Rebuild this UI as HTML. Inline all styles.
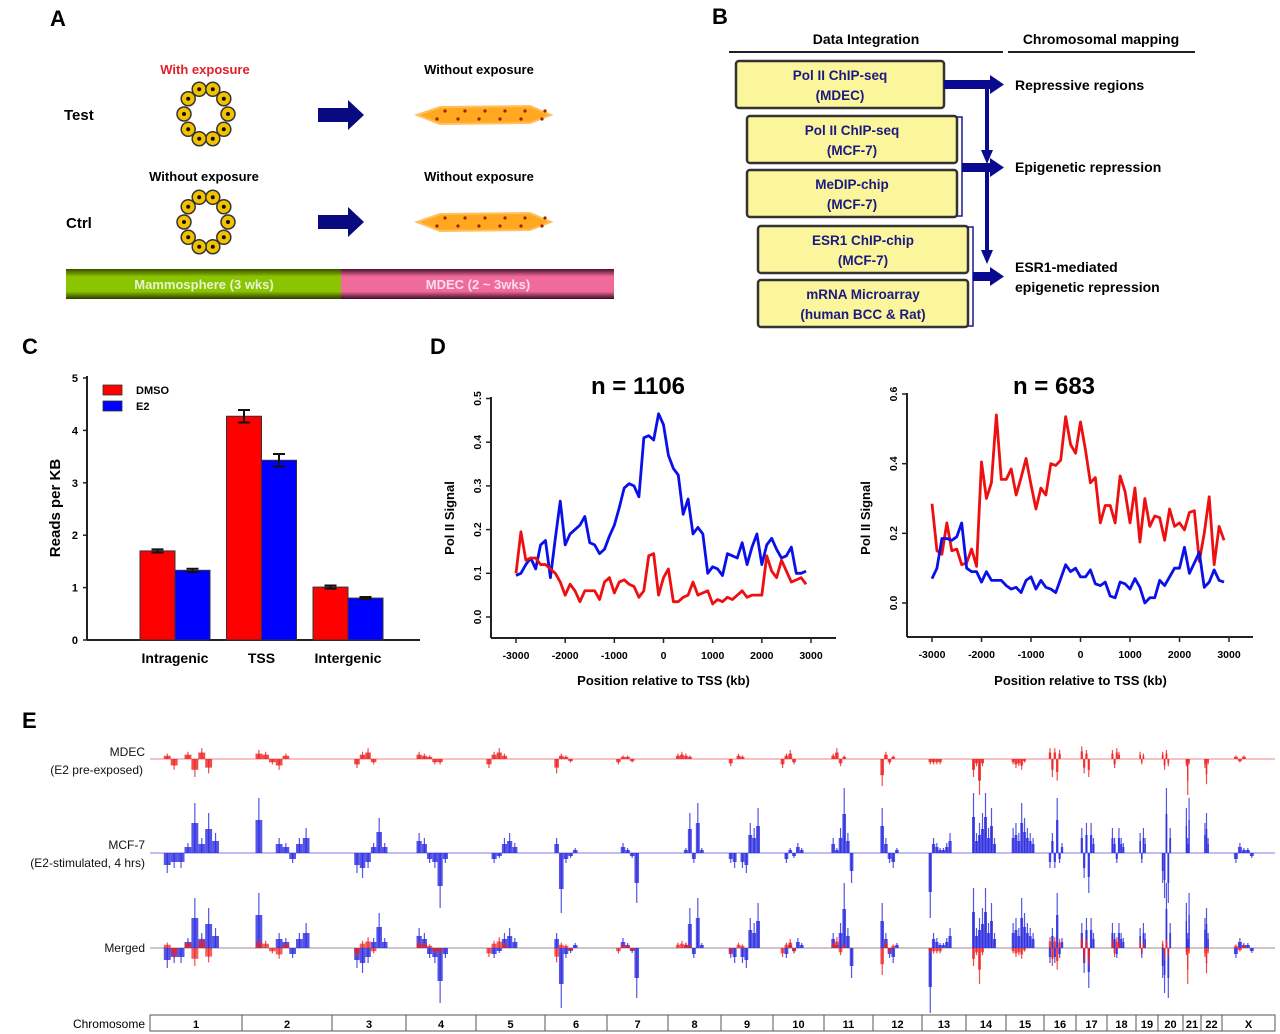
<!DOCTYPE html>
<html><head><meta charset="utf-8"><style>
html,body{margin:0;padding:0;background:#fff}
svg{display:block;font-family:"Liberation Sans",Arial,sans-serif}
</style></head><body>
<svg id="fig" width="1280" height="1034" viewBox="0 0 1280 1034" xmlns="http://www.w3.org/2000/svg">
<defs>
<linearGradient id="gGreen" x1="0" y1="0" x2="0" y2="1"><stop offset="0" stop-color="#3a4a00"/><stop offset="0.25" stop-color="#8bc400"/><stop offset="0.75" stop-color="#8bc400"/><stop offset="1" stop-color="#2a3a00"/></linearGradient>
<linearGradient id="gPink" x1="0" y1="0" x2="0" y2="1"><stop offset="0" stop-color="#4a1030"/><stop offset="0.25" stop-color="#f06a9a"/><stop offset="0.75" stop-color="#f06a9a"/><stop offset="1" stop-color="#3a0a20"/></linearGradient>
</defs>
<g font-weight="bold" font-size="22" fill="#000">
<text x="50" y="26">A</text>
<text x="712" y="24">B</text>
<text x="22" y="354">C</text>
<text x="430" y="354">D</text>
<text x="22" y="728">E</text>
</g>

<!-- Panel A -->
<g id="panelA" font-weight="bold" font-size="13">
<text x="205" y="74" text-anchor="middle" fill="#e0202a">With exposure</text>
<text x="479" y="74" text-anchor="middle">Without exposure</text>
<text x="204" y="181" text-anchor="middle">Without exposure</text>
<text x="479" y="181" text-anchor="middle">Without exposure</text>
<text x="64" y="120" font-size="15">Test</text>
<text x="66" y="228" font-size="15">Ctrl</text>
<g id="rings"></g>
<path d="M318 108 h30 v-8 l16 15 l-16 15 v-8 h-30z" fill="#0a0a80"/>
<path d="M318 215 h30 v-8 l16 15 l-16 15 v-8 h-30z" fill="#0a0a80"/>
<g id="strips"></g>
<rect x="66" y="269" width="276" height="30" fill="url(#gGreen)"/>
<rect x="341" y="269" width="273" height="30" fill="url(#gPink)"/>
<text x="204" y="289" text-anchor="middle" fill="#e8f4d0" font-size="13">Mammosphere (3 wks)</text>
<text x="478" y="289" text-anchor="middle" fill="#fbe0ea" font-size="13">MDEC (2 ~ 3wks)</text>
</g>

<!-- Panel B -->
<g id="panelB" font-weight="bold" font-size="14">
<text x="866" y="44" text-anchor="middle">Data Integration</text>
<text x="1101" y="44" text-anchor="middle">Chromosomal mapping</text>
<line x1="729" y1="52" x2="1003" y2="52" stroke="#222" stroke-width="2"/>
<line x1="1008" y1="52" x2="1195" y2="52" stroke="#222" stroke-width="2"/>
<g fill="#fbf59c" stroke="#333" stroke-width="2.5">
<rect x="736" y="61" width="208" height="47" rx="3"/>
<rect x="747" y="116" width="210" height="47" rx="3"/>
<rect x="747" y="170" width="210" height="47" rx="3"/>
<rect x="758" y="226" width="210" height="47" rx="3"/>
<rect x="758" y="280" width="210" height="47" rx="3"/>
</g>
<g fill="#1a1a80" text-anchor="middle" font-size="13.5">
<text x="840" y="80">Pol II ChIP-seq</text><text x="840" y="100">(MDEC)</text>
<text x="852" y="135">Pol II ChIP-seq</text><text x="852" y="155">(MCF-7)</text>
<text x="852" y="189">MeDIP-chip</text><text x="852" y="209">(MCF-7)</text>
<text x="863" y="245">ESR1 ChIP-chip</text><text x="863" y="265">(MCF-7)</text>
<text x="863" y="299">mRNA Microarray</text><text x="863" y="319">(human BCC &amp; Rat)</text>
</g>
<g stroke="#1a1a90" fill="none" stroke-width="1.5">
<path d="M956 117 h6 v99 h-6"/><path d="M967 227 h6 v99 h-6"/>
</g>
<g fill="#0a0a90">
<rect x="944" y="80" width="48" height="9"/><path d="M990 75 l14 9.5 l-14 9.5z"/>
<rect x="985" y="84" width="4" height="70"/><path d="M981 150 h12 l-6 14z"/>
<rect x="962" y="163" width="30" height="9"/><path d="M990 158 l14 9.5 l-14 9.5z"/>
<rect x="985" y="167" width="4" height="88"/><path d="M981 250 h12 l-6 14z"/>
<rect x="973" y="272" width="19" height="9"/><path d="M990 267 l14 9.5 l-14 9.5z"/>
</g>
<text x="1015" y="90">Repressive regions</text>
<text x="1015" y="172">Epigenetic repression</text>
<text x="1015" y="272">ESR1-mediated</text>
<text x="1015" y="292">epigenetic repression</text>
</g>

<g id="panelC"></g>
<g id="panelD1"></g>
<g id="panelD2"></g>
<g id="panelE"></g>
</svg>
<script>
// ---------- Panel C data ----------
const cCategories = ["Intragenic","TSS","Intergenic"];
const cDMSO = [1.70, 4.27, 1.01];
const cE2 = [1.33, 3.43, 0.80];
const cDMSOerr = [0.03, 0.12, 0.03];
const cE2err = [0.03, 0.12, 0.02];
const cTicks = [0,1,2,3,4,5];

// ---------- Panel D data ----------
const dPositions = [-3000,-2900,-2800,-2700,-2600,-2500,-2400,-2300,-2200,-2100,-2000,-1900,-1800,-1700,-1600,-1500,-1400,-1300,-1200,-1100,-1000,-900,-800,-700,-600,-500,-400,-300,-200,-100,0,100,200,300,400,500,600,700,800,900,1000,1100,1200,1300,1400,1500,1600,1700,1800,1900,2000,2100,2200,2300,2400,2500,2600,2700,2800,2900];
const d1Blue = [0.095,0.10,0.12,0.135,0.11,0.165,0.175,0.09,0.18,0.265,0.165,0.19,0.20,0.21,0.23,0.17,0.165,0.145,0.155,0.185,0.21,0.25,0.295,0.305,0.30,0.275,0.41,0.415,0.405,0.465,0.44,0.37,0.34,0.325,0.235,0.27,0.19,0.205,0.19,0.10,0.115,0.11,0.095,0.145,0.14,0.135,0.17,0.12,0.16,0.19,0.12,0.165,0.18,0.155,0.135,0.14,0.16,0.10,0.10,0.105];
const d1Red = [0.10,0.195,0.13,0.135,0.135,0.12,0.12,0.11,0.10,0.08,0.05,0.075,0.06,0.035,0.06,0.06,0.06,0.04,0.08,0.09,0.055,0.08,0.085,0.075,0.07,0.045,0.06,0.14,0.145,0.05,0.09,0.11,0.035,0.035,0.045,0.05,0.08,0.05,0.055,0.06,0.03,0.04,0.035,0.045,0.04,0.05,0.06,0.045,0.05,0.05,0.05,0.14,0.105,0.09,0.13,0.105,0.08,0.085,0.09,0.075];
const d2Red = [0.285,0.15,0.14,0.23,0.15,0.155,0.11,0.115,0.155,0.105,0.405,0.30,0.345,0.54,0.355,0.355,0.385,0.31,0.36,0.415,0.34,0.27,0.33,0.31,0.40,0.395,0.41,0.535,0.455,0.43,0.52,0.44,0.345,0.36,0.23,0.28,0.28,0.23,0.365,0.32,0.23,0.33,0.175,0.30,0.22,0.25,0.245,0.18,0.27,0.22,0.23,0.21,0.26,0.265,0.12,0.20,0.305,0.11,0.22,0.18];
const d2Blue = [0.07,0.10,0.185,0.185,0.18,0.19,0.23,0.10,0.09,0.09,0.06,0.09,0.065,0.065,0.065,0.05,0.04,0.045,0.03,0.065,0.075,0.04,0.065,0.045,0.04,0.03,0.07,0.11,0.09,0.10,0.075,0.075,0.095,0.055,0.05,0.06,0.02,0.015,0.06,0.055,0.04,0.07,0.045,0.0,0.015,0.015,0.065,0.05,0.075,0.10,0.10,0.16,0.085,0.115,0.145,0.045,0.06,0.095,0.065,0.06];
const dXTicks = [-3000,-2000,-1000,0,1000,2000,3000];
const d1YTicks = [0.0,0.1,0.2,0.3,0.4,0.5];
const d2YTicks = [0.0,0.2,0.4,0.6];

// ---------- Panel E data ----------
const eChromNames = ["1","2","3","4","5","6","7","8","9","10","11","12","13","14","15","16","17","18","19","20","21","22","X"];
const eChromEdges = [150,242,332,406,476,545,607,668,721,773,824,873,922,966,1006,1044,1076,1107,1136,1158,1183,1201,1222,1275];
const eMCF = [
[-0.4,-0.3,-0.3,0.2,1.0,0.3,0.8,0.4],[1.1,0,0,0.3,0.2,-0.2,0.3,0.5],[0,0,-0.4,-0.5,-0.3,0.2,0.7,0.2],[0.4,0.3,-0.2,-0.3,-1.1,-0.2,0,0],
[0,-0.2,-0.1,0.3,0.4,0.2,0,0],[0.3,-1.2,-0.2,-0.1,0.1,0,0,0],[0,0.2,0.1,-0.1,-1.0,0,0,0],[0,0,0.1,0.8,-0.2,1.0,0.1,0],
[-0.2,-0.3,0,-0.3,-0.4,0.6,0.5,0.9],[0,-0.2,0.1,-0.1,0.2,0.1,0,0],[0.3,0.1,0.5,1.3,0.4,-0.6,0,0],[0.9,0.3,-0.2,-0.3,0.1,0,0,0],
[-1.3,0.3,0.2,0.1,0.1,0.2,0.4,0],[1.2,0.4,0.6,0.8,1.2,0.5,0.9,0.3],[0.5,0.6,0.4,1.0,0.7,0.5,0.4,0.3],[-0.3,0.4,-0.3,1.1,-0.2,0.2,0,0],
[0.5,-0.5,0.6,-0.8,0.6,0.3,0,0],[0.5,0.3,-0.2,0.5,0.3,0.2,0,0],[0.4,-0.2,0.5,0.3,0,0,0,0],[-0.6,-0.9,1.3,-1.0,0.5,0,0,0],
[0.9,0.3,1.1,0,0,0,0,0],[0.6,0.8,0.3,0,0,0,0,0],[0,-0.2,0.2,0.1,0.1,-0.1,0,0]];
const eMDEC = [
[0.3,-0.6,0,0.4,-1.0,0.6,-0.8,0],[0.5,0.4,-0.3,-0.6,0.3,0,0,0],[0,0,-0.5,0.4,0.6,-0.3,0,0],[0.4,0.3,0.2,-0.3,-0.3,0,0,0],
[-0.5,0.4,0.6,0.3,0,0,0,0],[-0.8,0.3,0.2,-0.2,0,0,0,0],[-0.3,0.2,0.2,-0.2,0,0,0,0],[0.3,0.4,0.3,0.2,0,0,0,0],
[-0.4,0,0.3,0.2,0,0,0,0],[-0.5,0.3,0.5,-0.3,0,0,0,0],[0.3,0.6,-0.4,0.2,0,0,0,0],[-1.5,0.4,-0.3,0.2,0,0,0,0],
[-0.3,-0.3,-0.3,-0.3,0,0,0,0],[-1.0,-0.4,-2.0,-0.4,0,0,0,0],[-0.3,-0.5,-0.4,-0.6,-0.2,0,0,0],[0.6,-1.0,0.6,-1.2,0.5,0,0,0],
[0.7,-0.8,0.5,-1.0,0,0,0,0],[0.5,-0.5,0.6,0.4,0,0,0,0],[0.4,-0.3,0.3,0,0,0,0,0],[0.4,-0.6,0.5,-0.4,0,0,0,0],
[-0.4,-2.0,-0.3,0,0,0,0,0],[-0.5,-1.4,-0.3,0,0,0,0,0],[0,0.2,-0.2,0.2,0,0,0,0]];

const NS="http://www.w3.org/2000/svg";
function mk(parent,tag,attrs,text){const e=document.createElementNS(NS,tag);for(const k in attrs)e.setAttribute(k,attrs[k]);if(text!==undefined)e.textContent=text;parent.appendChild(e);return e;}

// Panel A decorations
(function(){
  const g=document.getElementById('rings');
  [[206,114],[206,222]].forEach((c,ri)=>{
    for(let i=0;i<10;i++){const a=i/10*2*Math.PI;
      const cx=c[0]+22*Math.cos(a), cy=c[1]+26*Math.sin(a);
      const cell=mk(g,'circle',{cx:cx,cy:cy,r:7,fill:'#f2c200',stroke:'#333','stroke-width':1.5});
      
      
      mk(g,'circle',{cx:cx,cy:cy,r:2,fill:'#111'});}
  });
  const s=document.getElementById('strips');
  [115,222].forEach(y=>{
    const p=mk(s,'path',{d:`M417 ${y} L440 ${y-8} L530 ${y-9} L551 ${y} L530 ${y+8} L440 ${y+9}Z`,fill:'#ffa820',stroke:'#ffc060','stroke-width':2});
    
    
    for(let i=0;i<6;i++){mk(s,'circle',{cx:445+i*20,cy:y-4,r:1.6,fill:'#a02000'});mk(s,'circle',{cx:437+i*21,cy:y+4,r:1.6,fill:'#a02000'});}
  });
})();

// Panel C
(function(){
  const g=document.getElementById('panelC');
  const y=v=>640-v*52.4;
  const cx=i=>175+i*86.5;
  mk(g,'line',{x1:87,y1:376,x2:87,y2:640,stroke:'#222','stroke-width':2});
  mk(g,'line',{x1:87,y1:640,x2:420,y2:640,stroke:'#222','stroke-width':2});
  cTicks.forEach(t=>{mk(g,'line',{x1:83,y1:y(t),x2:87,y2:y(t),stroke:'#222','stroke-width':1.5});
    const tl=mk(g,'text',{x:78,y:y(t)+4,'text-anchor':'end','font-size':11,'font-weight':'bold'},String(t));
    
    });
  cCategories.forEach((c,i)=>{
    const b1=mk(g,'rect',{x:cx(i)-35,y:y(cDMSO[i]),width:35,height:640-y(cDMSO[i]),fill:'#ff0000',stroke:'#333','stroke-width':1});
    
    
    const b2=mk(g,'rect',{x:cx(i),y:y(cE2[i]),width:35,height:640-y(cE2[i]),fill:'#0000ff',stroke:'#333','stroke-width':1});
    
    
    [[cx(i)-17.5,cDMSO[i],cDMSOerr[i]],[cx(i)+17.5,cE2[i],cE2err[i]]].forEach(e=>{
      mk(g,'path',{d:`M${e[0]} ${y(e[1]+e[2])} V${y(e[1]-e[2])} M${e[0]-6} ${y(e[1]+e[2])} h12 M${e[0]-6} ${y(e[1]-e[2])} h12`,stroke:'#111','stroke-width':2,fill:'none'});});
    const lbl=mk(g,'text',{x:cx(i),y:663,'text-anchor':'middle','font-size':14,'font-weight':'bold'},c);
    
    
  });
  const yl=mk(g,'text',{x:0,y:0,transform:'translate(60,508) rotate(-90)','text-anchor':'middle','font-size':15,'font-weight':'bold'},'Reads per KB');
  
  
  mk(g,'rect',{x:103,y:385,width:19,height:10,fill:'#ff0000',stroke:'#333','stroke-width':0.8});
  mk(g,'rect',{x:103,y:401,width:19,height:10,fill:'#0000ff',stroke:'#333','stroke-width':0.8});
  const l1=mk(g,'text',{x:136,y:394,'font-size':11,'font-weight':'bold'},'DMSO');
  
  
  const l2=mk(g,'text',{x:136,y:410,'font-size':11,'font-weight':'bold'},'E2');
  
  
})();

// Panel D
function lineChart(id,o){
  const g=document.getElementById(id);
  const x=v=>o.x0+(v+3000)*o.xw/6000;
  const y=v=>o.y0-v*o.ys;
  mk(g,'line',{x1:o.ax,y1:o.ytop,x2:o.ax,y2:o.ab,stroke:'#222','stroke-width':2});
  mk(g,'line',{x1:o.ax,y1:o.ab,x2:o.axr,y2:o.ab,stroke:'#222','stroke-width':2});
  dXTicks.forEach(t=>{mk(g,'line',{x1:x(t),y1:o.ab,x2:x(t),y2:o.ab+5,stroke:'#222','stroke-width':1.5});
    const tl=mk(g,'text',{x:x(t),y:o.ab+21,'text-anchor':'middle','font-size':10.5,'font-weight':'bold'},String(t));
    
    });
  o.yt.forEach(t=>{mk(g,'line',{x1:o.ax-5,y1:y(t),x2:o.ax,y2:y(t),stroke:'#222','stroke-width':1.5});
    const tl=mk(g,'text',{x:0,y:0,transform:`translate(${o.ax-10},${y(t)}) rotate(-90)`,'text-anchor':'middle','font-size':10.5,'font-weight':'bold'},t.toFixed(1));
    
    });
  o.series.forEach(s=>{
    const p=mk(g,'polyline',{points:dPositions.map((d,i)=>x(d)+','+y(s.v[i])).join(' '),fill:'none',stroke:s.c,'stroke-width':2.8,'stroke-linejoin':'round'});
    
    
  });
  const tt=mk(g,'text',{x:o.tx,y:394,'text-anchor':'middle','font-size':24,'font-weight':'bold'},o.title);
  
  
  const xl=mk(g,'text',{x:o.x0+o.xw/2,y:685,'text-anchor':'middle','font-size':13,'font-weight':'bold'},'Position relative to TSS (kb)');
  
  
  const yl=mk(g,'text',{x:0,y:0,transform:`translate(${o.yl},518) rotate(-90)`,'text-anchor':'middle','font-size':13,'font-weight':'bold'},'Pol II Signal');
  
  
}
lineChart('panelD1',{x0:516,xw:295,y0:617,ys:437,ax:491,axr:836,ytop:397,ab:638,yt:d1YTicks,title:'n = 1106',tx:638,yl:454,
  series:[{v:d1Blue,c:'#0a10e8',n:'line-e2-blue'},{v:d1Red,c:'#ee1010',n:'line-dmso-red'}]});
lineChart('panelD2',{x0:932,xw:297,y0:603,ys:348.3,ax:907,axr:1253,ytop:393,ab:637,yt:d2YTicks,title:'n = 683',tx:1054,yl:870,
  series:[{v:d2Red,c:'#ee1010',n:'line-red'},{v:d2Blue,c:'#0a10e8',n:'line-blue'}]});

// Panel E
(function(){
  const g=document.getElementById('panelE');
  const L=eChromEdges[0], R=eChromEdges[eChromEdges.length-1];
  const base={mdec:759,mcf:853,merged:948};
  mk(g,'line',{x1:L,y1:base.mdec,x2:R,y2:base.mdec,stroke:'#f08080','stroke-width':1});
  mk(g,'line',{x1:L,y1:base.mcf,x2:R,y2:base.mcf,stroke:'#a8a8f0','stroke-width':1.5});
  mk(g,'line',{x1:L,y1:base.merged,x2:R,y2:base.merged,stroke:'#b0a0b0','stroke-width':1.2});
  function track(vals,by,amp,col,name,op){
    vals.forEach((arr,ci)=>{
      const a=eChromEdges[ci], w=eChromEdges[ci+1]-a, n=arr.length, bw=w*0.6/n;
      arr.forEach((v,j)=>{ if(v===0) return;
        const xx=a+w*(0.15+0.6*j/n);
        const h=v*amp;
        const r=mk(g,'rect',{x:xx,y:h>0?by-h*0.6:by,width:bw,height:Math.abs(h)*0.6,fill:col,opacity:op});
        
        
        mk(g,'line',{x1:xx+bw*0.5,y1:by,x2:xx+bw*0.5,y2:by-h,stroke:col,'stroke-width':1.2,opacity:0.8});
      });
    });
  }
  track(eMDEC,base.mdec,18,'#ee2020','mdec-signal',0.8);
  track(eMCF,base.mcf,50,'#2a2ae0','mcf7-signal',0.8);
  track(eMCF,base.merged,50,'#2a2ae0','merged-mcf7-signal',0.8);
  track(eMDEC,base.merged,18,'#ee2020','merged-mdec-signal',0.7);
  const fs=12;
  [['MDEC',145,756],['(E2 pre-exposed)',143,774],['MCF-7',145,849],['(E2-stimulated, 4 hrs)',145,867],['Merged',145,952]].forEach(t=>{
    const tx=mk(g,'text',{x:t[1],y:t[2],'text-anchor':'end','font-size':fs,fill:'#111'},t[0]);
    
    
  });
  const cl=mk(g,'text',{x:145,y:1028,'text-anchor':'end','font-size':12},'Chromosome');
  
  
  mk(g,'rect',{x:L,y:1015,width:R-L,height:16,fill:'#fff',stroke:'#555','stroke-width':1});
  eChromNames.forEach((c,i)=>{
    const a=eChromEdges[i], b=eChromEdges[i+1];
    if(i>0) mk(g,'line',{x1:a,y1:1015,x2:a,y2:1031,stroke:'#555','stroke-width':1});
    const t=mk(g,'text',{x:(a+b)/2,y:1028,'text-anchor':'middle','font-size':11,'font-weight':'bold'},c);
    
    
  });
})();
</script>
</body></html>
